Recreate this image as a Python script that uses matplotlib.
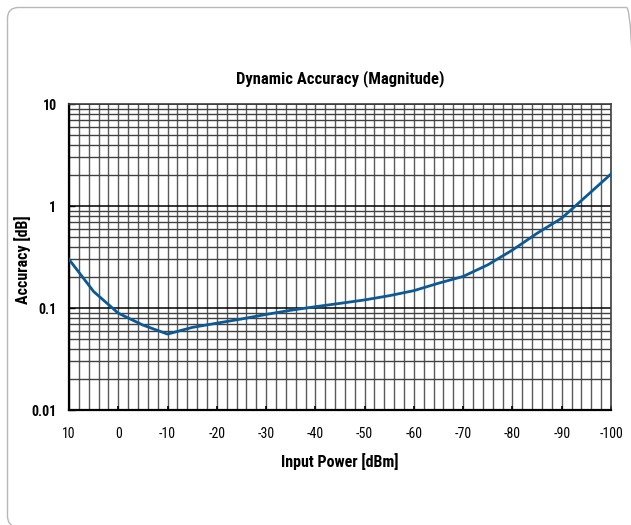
import matplotlib
matplotlib.use("Agg")
import matplotlib.pyplot as plt
from matplotlib.patches import FancyBboxPatch
from matplotlib.transforms import IdentityTransform
from matplotlib.ticker import FixedLocator, NullFormatter, LogLocator
import numpy as np

power_dbm = [10, 5, 0, -5, -10, -15, -20, -25, -30, -35, -40, -45, -50,
             -55, -60, -65, -70, -75, -80, -85, -90, -95, -100]
accuracy_db = [0.30, 0.145, 0.089, 0.068, 0.0555, 0.0645, 0.071, 0.078, 0.0865,
               0.095, 0.103, 0.111, 0.120, 0.132, 0.148, 0.175, 0.204, 0.265,
               0.37, 0.54, 0.76, 1.25, 2.06]
x_ticks = [10, 0, -10, -20, -30, -40, -50, -60, -70, -80, -90, -100]
y_ticks = [0.01, 0.1, 1, 10]
y_tick_labels = ["0.01", "0.1", "1", "10"]

plt.rcParams['font.family'] = ['Roboto Condensed', 'Barlow Condensed', 'DejaVu Sans']

fig = plt.figure(figsize=(6.31, 5.25), dpi=100)
border = FancyBboxPatch((7.5, -2), 630, 519.5,
                        boxstyle="round,pad=0,rounding_size=11",
                        transform=IdentityTransform(), fill=False,
                        edgecolor="#b8b8b8", linewidth=1.0, clip_on=False)
fig.patches.append(border)

ax = fig.add_axes([69 / 631, 1 - 410 / 525, (611 - 69) / 631, (410 - 104) / 525])
ax.set_yscale('log')
ax.set_xlim(10, -100)
ax.set_ylim(0.01, 10)

# grid
ax.xaxis.set_minor_locator(FixedLocator(np.arange(10, -101, -2)))
ax.yaxis.set_minor_locator(LogLocator(base=10, subs=np.arange(2, 10)))
ax.yaxis.set_minor_formatter(NullFormatter())
ax.grid(True, which='minor', axis='x', color='#5a5a5a', linewidth=1.0)
ax.grid(True, which='major', axis='x', color='#5a5a5a', linewidth=1.0)
ax.grid(True, which='minor', axis='y', color='#404040', linewidth=1.0)
ax.grid(True, which='major', axis='y', color='#000000', linewidth=1.1)
ax.set_axisbelow(True)

ax.plot(power_dbm, accuracy_db, color='#0b5a96', linewidth=2.0, zorder=3)

ax.set_xticks(x_ticks)
ax.set_xticklabels([str(v) for v in x_ticks], fontsize=10)
ax.set_yticks(y_ticks)
ax.set_yticklabels(y_tick_labels, fontsize=10, fontweight='bold')
ax.tick_params(axis='x', which='major', direction='in', length=3, width=1.2, pad=12)
ax.tick_params(axis='x', which='minor', length=0)
ax.tick_params(axis='y', which='major', direction='in', length=4, width=1.0, pad=9)
ax.tick_params(axis='y', which='minor', length=0)

for side in ['left', 'bottom']:
    ax.spines[side].set_color('black')
    ax.spines[side].set_linewidth(1.6)
for side in ['top', 'right']:
    ax.spines[side].set_color('#404040')
    ax.spines[side].set_linewidth(1.2)

ax.set_title('Dynamic Accuracy (Magnitude)', fontsize=12, fontweight='bold', pad=15)
ax.set_xlabel('Input Power [dBm]', fontsize=11.5, fontweight='bold', labelpad=9)
ax.set_ylabel('Accuracy [dB]', fontsize=11.5, fontweight='bold')
ax.yaxis.set_label_coords((31 - 69) / 542, 0.49)

fig.savefig('out.png', dpi=100)
